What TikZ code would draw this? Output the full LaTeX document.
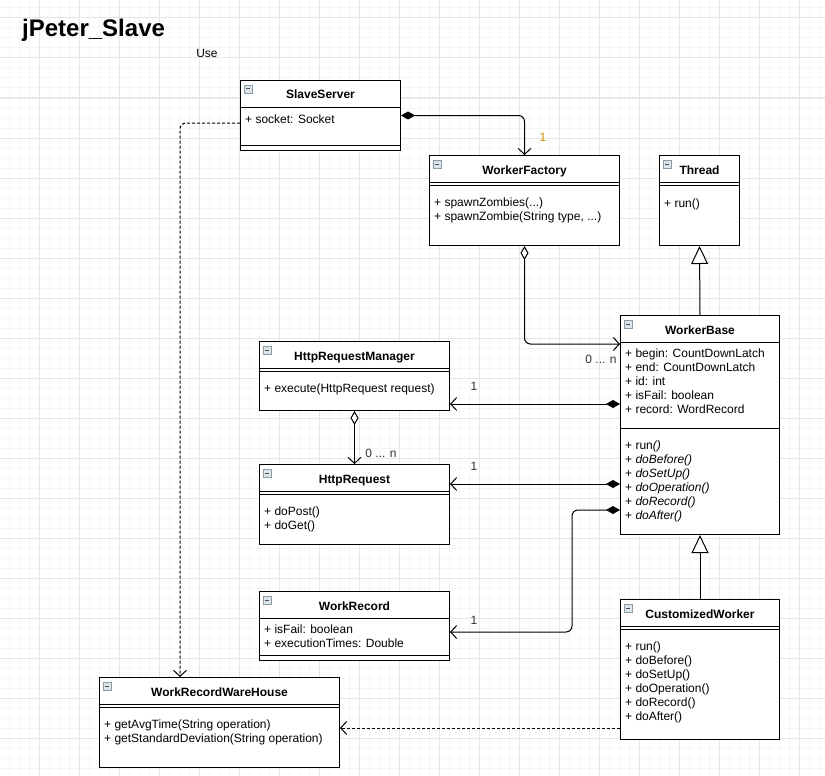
\documentclass[tikz,border=0pt]{standalone}
\usepackage{fontspec}
\setmainfont{Liberation Sans}
\usepackage{xcolor}
\definecolor{GridMajor}{HTML}{E6E6E6}
\definecolor{GridMinor}{HTML}{F5F5F5}
\definecolor{LabelOrange}{HTML}{D08A00}
\definecolor{IconGray}{HTML}{8A9BA8}
\definecolor{IconFill}{HTML}{DDE4EA}
\usepackage{tikz}
\usetikzlibrary{arrows.meta,positioning,calc}

\begin{document}
\begin{tikzpicture}[x=1pt,y=-1pt,
  cls/.style={draw,line width=1pt,fill=white,anchor=north west,inner sep=0pt},
  cname/.style={font=\fontsize{12}{14}\selectfont\bfseries,anchor=base,inner sep=0pt},
  mbr/.style={font=\fontsize{12}{14}\selectfont,anchor=north west,align=left,inner sep=0pt,execute at begin node=\strut},
  lbl/.style={font=\fontsize{12}{14}\selectfont,inner sep=0pt,text=black!80},
  icon/.style={draw=IconGray,fill=IconFill,line width=0.8pt},
  comp/.style={line width=1pt,rounded corners=6pt,{Diamond[length=14pt,width=8pt]}-{Straight Barb[length=6pt,width=13pt]}},
  aggr/.style={line width=1pt,rounded corners=6pt,{Diamond[open,fill=white,length=14pt,width=8pt]}-{Straight Barb[length=6pt,width=13pt]}},
  inh/.style={line width=1pt,-{Triangle[open,fill=white,length=18pt,width=17pt]}},
  dep/.style={line width=1pt,rounded corners=6pt,dash pattern=on 3pt off 2pt,-{Straight Barb[length=6pt,width=13pt]}}
]
  \useasboundingbox (0,0) rectangle (825,776);
  \fill[white] (0,0) rectangle (825,776);
  \foreach \x in {-1,9,...,829} \draw[GridMinor,line width=1pt] (\x,0) -- (\x,776);
  \foreach \y in {-2,8,...,778} \draw[GridMinor,line width=1pt] (0,\y) -- (825,\y);
  \foreach \x in {-1,39,...,799} \draw[GridMajor,line width=1pt] (\x,0) -- (\x,776);
  \foreach \y in {18,58,...,738} \draw[GridMajor,line width=1pt] (0,\y) -- (825,\y);

  \node[font=\fontsize{24}{28}\selectfont\bfseries,anchor=base west,inner sep=0pt] (title) at (22,37) {jPeter\_Slave};
  \node[lbl,text=black] (use) at (207,53) {Use};

  % classes
  \node[cls,minimum width=160,minimum height=70] (ss) at (240,80) {};
  \node[cls,minimum width=190,minimum height=90] (wf) at (429,155) {};
  \node[cls,minimum width=80,minimum height=90] (th) at (659,155) {};
  \node[cls,minimum width=159,minimum height=219] (wb) at (620,315) {};
  \node[cls,minimum width=190,minimum height=69] (hrm) at (259,341) {};
  \node[cls,minimum width=190,minimum height=80] (hr) at (259,464) {};
  \node[cls,minimum width=190,minimum height=69] (wr) at (259,591) {};
  \node[cls,minimum width=240,minimum height=90] (wrw) at (99,677) {};
  \node[cls,minimum width=159,minimum height=140] (cw) at (620,599) {};

  \foreach \n/\t in {ss/SlaveServer,wf/WorkerFactory,th/Thread,wb/WorkerBase,hrm/HttpRequestManager,
      hr/HttpRequest,wr/WorkRecord,wrw/WorkRecordWareHouse,cw/CustomizedWorker} {
    \node[cname] (\n-name) at ($(\n.north)+(0,19)$) {\t};
    \draw[icon] ($(\n.north west)+(4,5)$) rectangle ++(8,8);
    \draw[black!70,line width=1pt] ($(\n.north west)+(6,9)$) -- ++(4,0);
  }
  \foreach \n/\d in {ss/27,ss/65,wf/27,wf/30,th/27,th/30,wb/27,wb/113,hrm/27,hrm/30,
      hr/27,hr/30,wr/27,wr/64,wrw/27,wrw/30,cw/27,cw/30}
    \draw[line width=1pt] ($(\n.north west)+(0,\d)$) -- ($(\n.north east)+(0,\d)$);

  \node[mbr] (ss-a) at ($(ss.north west)+(5,33.2)$) {+ socket: Socket};
  \node[mbr] (wf-m) at ($(wf.north west)+(5,42.2)$) {+ spawnZombies(...)\\+ spawnZombie(String type, ...)};
  \node[mbr] (th-m) at ($(th.north west)+(5,42.2)$) {+ run()};
  \node[mbr] (wb-a) at ($(wb.north west)+(5,33.2)$) {+ begin: CountDownLatch\\+ end: CountDownLatch\\+ id: int\\+ isFail: boolean\\+ record: WordRecord};
  \node[mbr] (wb-m) at ($(wb.north west)+(5,125.2)$) {+ run\textit{()}\\+ \textit{doBefore()}\\+ \textit{doSetUp()}\\+ \textit{doOperation()}\\+ \textit{doRecord()}\\+ \textit{doAfter()}};
  \node[mbr] (hrm-m) at ($(hrm.north west)+(5,41.2)$) {+ execute(HttpRequest request)};
  \node[mbr] (hr-m) at ($(hr.north west)+(5,42.2)$) {+ doPost()\\+ doGet()};
  \node[mbr] (wr-a) at ($(wr.north west)+(5,33.2)$) {+ isFail: boolean\\+ executionTimes: Double};
  \node[mbr] (wrw-m) at ($(wrw.north west)+(5,42.2)$) {+ getAvgTime(String operation)\\+ getStandardDeviation(String operation)};
  \node[mbr] (cw-m) at ($(cw.north west)+(5,42.2)$) {+ run()\\+ doBefore()\\+ doSetUp()\\+ doOperation()\\+ doRecord()\\+ doAfter()};

  % connectors
  \coordinate (wb-in) at ($(wb.north west)+(0,29)$);
  \coordinate (wb-hrm) at ($(wb.north west)+(0,89)$);
  \coordinate (wb-hr) at ($(wb.north west)+(0,169)$);
  \coordinate (wb-wr) at ($(wb.north west)+(0,195)$);
  \coordinate (wr-in) at ($(wr.north east)+(0,41)$);
  \coordinate (ss-use) at ($(ss.north west)+(0,43)$);
  \coordinate (cw-use) at ($(cw.north west)+(0,129)$);

  \draw[comp] (ss.east) -| (wf.north);
  \draw[aggr] (wf.south) |- (wb-in);
  \draw[inh] (wb.north) -- (th.south);
  \draw[inh] (cw.north) -- (wb.south);
  \draw[comp] (wb-hrm) -- (wb-hrm -| hrm.east);
  \draw[comp] (wb-hr) -- (wb-hr -| hr.east);
  \draw[comp] (wb-wr) -- ++(-48,0) |- (wr-in);
  \draw[aggr] (hrm.south) -- (hr.north);
  \draw[dep] (ss-use) -| ($(wrw.north west)+(81,0)$);
  \draw[dep] (cw-use) -- (cw-use -| wrw.east);

  \node[lbl,text=LabelOrange] (ss-wf) at (543,137) {1};
  \node[lbl] (wf-wb) at (601,359) {0 ... n};
  \node[lbl] (wb-hrm-l) at (474,386) {1};
  \node[lbl] (hrm-hr) at (381,453) {0 ... n};
  \node[lbl] (wb-hr-l) at (474,466) {1};
  \node[lbl] (wb-wr-l) at (474,620) {1};
\end{tikzpicture}
\end{document}
